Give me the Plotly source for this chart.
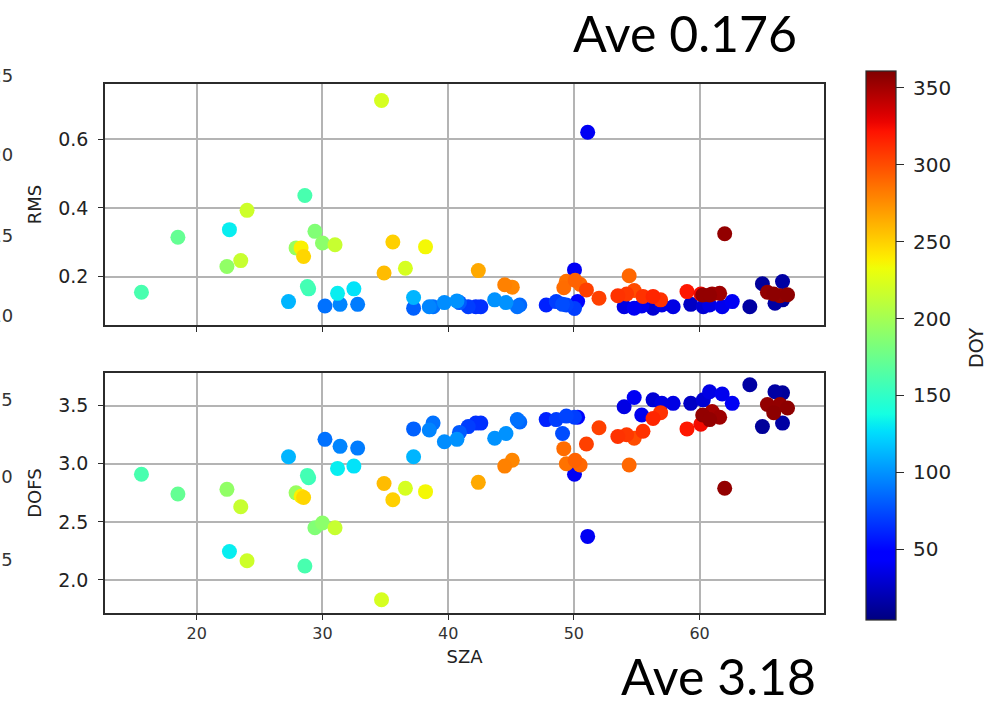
import numpy as np
import plotly.graph_objects as go

# Retrieval quality versus solar zenith angle, coloured by day of year
sza = [15.6, 18.5, 22.6, 22.4, 23.5, 24.0, 27.3, 27.9, 28.3, 28.5,
       28.6, 28.8, 28.9, 29.4, 30.0, 30.2, 31.0, 31.2, 31.4, 32.5,
       32.8, 34.7, 34.9, 35.6, 36.6, 37.25, 37.25, 38.2, 38.5, 38.8,
       39.7, 40.7, 40.9, 41.6, 42.2, 42.4, 42.6, 43.7, 44.5, 45.1,
       44.6, 45.5, 45.7, 47.8, 48.6, 49.1, 49.4, 49.2, 49.4, 50.1,
       50.5, 50.05, 50.3, 50.05, 51.0, 51.1, 52.0, 53.5, 54.0, 54.4,
       54.8, 54.8, 54.2, 55.5, 55.4, 56.3, 56.3, 56.9, 57.0, 57.9,
       59.0, 59.3, 60.1, 60.25, 60.8, 61.6, 61.0, 60.8, 61.8, 62.6,
       60.3, 62.0, 64.0, 65.0, 66.6, 66.0, 66.6, 65.4, 65.9, 66.4,
       67.0]
rms = [0.155, 0.315, 0.337, 0.230, 0.247, 0.393, 0.128, 0.284, 0.284, 0.259,
       0.436, 0.172, 0.165, 0.332, 0.298, 0.115, 0.293, 0.152, 0.120, 0.165,
       0.120, 0.712, 0.211, 0.301, 0.225, 0.140, 0.109, 0.287, 0.113, 0.113,
       0.125, 0.130, 0.125, 0.113, 0.113, 0.218, 0.113, 0.133, 0.177, 0.170,
       0.125, 0.113, 0.118, 0.118, 0.128, 0.120, 0.118, 0.168, 0.187, 0.190,
       0.178, 0.220, 0.128, 0.108, 0.162, 0.620, 0.138, 0.145, 0.113, 0.203,
       0.160, 0.109, 0.150, 0.143, 0.115, 0.143, 0.109, 0.133, 0.118, 0.113,
       0.157, 0.120, 0.150, 0.147, 0.147, 0.152, 0.150, 0.118, 0.113, 0.128,
       0.113, 0.325, 0.113, 0.180, 0.186, 0.123, 0.133, 0.155, 0.150, 0.145,
       0.148]
dofs = [2.91, 2.74, 2.245, 2.78, 2.63, 2.165, 3.06, 2.75, 2.72, 2.71,
        2.12, 2.90, 2.88, 2.45, 2.49, 3.21, 2.45, 2.96, 3.15, 2.98,
        3.135, 1.83, 2.83, 2.69, 2.79, 3.06, 3.30, 2.76, 3.29, 3.35,
        3.19, 3.21, 3.27, 3.32, 3.35, 2.84, 3.35, 3.22, 2.98, 3.03,
        3.26, 3.38, 3.36, 3.38, 3.38, 3.26, 3.41, 3.13, 3.00, 3.03,
        2.99, 2.91, 3.40, 3.40, 3.17, 2.375, 3.31, 3.235, 3.49, 2.99,
        3.22, 3.57, 3.25, 3.28, 3.42, 3.39, 3.55, 3.44, 3.52, 3.52,
        3.30, 3.52, 3.34, 3.42, 3.38, 3.40, 3.45, 3.62, 3.60, 3.52,
        3.55, 2.79, 3.68, 3.32, 3.35, 3.62, 3.61, 3.51, 3.44, 3.51,
        3.48]
doy = [160, 172, 132, 192, 215, 218, 112, 195, 238, 248,
       160, 158, 155, 185, 190, 88, 215, 132, 95, 128,
       92, 222, 258, 250, 222, 112, 82, 235, 95, 88,
       98, 100, 80, 70, 65, 265, 65, 100, 280, 278,
       100, 88, 85, 60, 70, 75, 72, 288, 286, 292,
       290, 40, 50, 70, 305, 40, 305, 310, 35, 290,
       300, 40, 308, 310, 38, 315, 30, 310, 35, 35,
       320, 25, 325, 355, 355, 352, 350, 35, 38, 40,
       30, 355, 15, 12, 15, 15, 12, 355, 357, 355,
       357]

rms_label = "Ave 0.176"
dofs_label = "Ave 3.18"
doy_range = [4, 361]
doy_ticks = [50, 100, 150, 200, 250, 300, 350]

# Later days are drawn on top
order = np.argsort(doy, kind="stable")
sza_o = np.asarray(sza)[order]
rms_o = np.asarray(rms)[order]
dofs_o = np.asarray(dofs)[order]
doy_o = np.asarray(doy)[order]


def jet_colorscale(n=65):
    """Classic 'jet' colormap as a Plotly colorscale."""
    seg = {
        "r": [(0, 0), (0.35, 0), (0.66, 1), (0.89, 1), (1, 0.5)],
        "g": [(0, 0), (0.125, 0), (0.375, 1), (0.64, 1), (0.91, 0), (1, 0)],
        "b": [(0, 0.5), (0.11, 1), (0.34, 1), (0.65, 0), (1, 0)],
    }
    t = np.linspace(0, 1, n)
    chans = {k: np.interp(t, [p[0] for p in v], [p[1] for p in v]) for k, v in seg.items()}
    return [[float(ti), "rgb(%d,%d,%d)" % (round(255 * r), round(255 * g), round(255 * b))]
            for ti, r, g, b in zip(t, chans["r"], chans["g"], chans["b"])]


# Figure geometry (pixels)
W, H = 997, 706
L, R, T, B = 105, 824, 84, 613
PW, PH = R - L, B - T


def px(x):
    return (x - L) / PW


def py(y):
    return (B - y) / PH


FONT = "DejaVu Sans"
AX = "#2b2b2b"
GRID = "#b4b4b4"

fig = go.Figure()
marker = dict(size=15, color=doy_o, coloraxis="coloraxis", line=dict(width=0), opacity=1)
fig.add_trace(go.Scatter(x=sza_o, y=rms_o, mode="markers", marker=marker,
                         xaxis="x", yaxis="y", showlegend=False))
fig.add_trace(go.Scatter(x=sza_o, y=dofs_o, mode="markers", marker=marker,
                         xaxis="x2", yaxis="y2", showlegend=False))

axis_common = dict(
    showline=True, mirror=True, linecolor=AX, linewidth=1.5,
    ticks="outside", ticklen=5, tickwidth=1.2, tickcolor=AX,
    showgrid=True, gridcolor=GRID, gridwidth=1.5, zeroline=False,
)
xr = [12.7, 69.9]

fig.update_layout(
    width=W, height=H,
    margin=dict(l=L, r=W - R, t=T, b=H - B, pad=0),
    paper_bgcolor="white", plot_bgcolor="white",
    font=dict(family=FONT, color="#222"),
    xaxis=dict(axis_common, domain=[0, 1], anchor="y", range=xr, dtick=10,
               showticklabels=False),
    yaxis=dict(axis_common, domain=[py(325), 1], anchor="x", range=[0.06, 0.76],
               tickvals=[0.2, 0.4, 0.6], tickformat=".1f",
               tickfont=dict(size=19, color="#222"), ticklabelstandoff=6,
               title=dict(text="RMS", font=dict(size=18, color="#222"), standoff=12)),
    xaxis2=dict(axis_common, domain=[0, 1], anchor="y2", range=xr, dtick=10,
                tickfont=dict(size=16, color="#333"),
                title=dict(text="SZA", font=dict(size=18, color="#222"), standoff=8)),
    yaxis2=dict(axis_common, domain=[0, py(373)], anchor="x2", range=[1.716, 3.781],
                dtick=0.5, tickformat=".1f",
                tickfont=dict(size=19, color="#222"), ticklabelstandoff=6,
                title=dict(text="DOFS", font=dict(size=18, color="#222"), standoff=12)),
    coloraxis=dict(
        colorscale=jet_colorscale(), cmin=doy_range[0], cmax=doy_range[1],
        colorbar=dict(
            x=px(866), xanchor="left", xpad=0, y=py(345.5), yanchor="middle", ypad=0,
            len=549, lenmode="pixels", thickness=30, thicknessmode="pixels",
            outlinewidth=1.2, outlinecolor=AX,
            tickvals=doy_ticks, ticktext=["\u2005" + str(v) for v in doy_ticks],
            ticks="outside", ticklen=8, tickwidth=1.2, tickcolor=AX,
            tickfont=dict(size=20, color="#222", family=FONT),
        ),
    ),
)

# Colour bar title
fig.add_annotation(text="DOY", xref="paper", yref="paper", x=px(976), y=py(348),
                   xanchor="center", yanchor="middle", textangle=-90, showarrow=False,
                   font=dict(family=FONT, size=19, color="#222"))

# Headline averages
big = dict(family="Lato", size=50, color="black")
fig.add_annotation(text=rms_label, xref="paper", yref="paper", x=px(685), y=py(33),
                   xanchor="center", yanchor="middle", showarrow=False, font=big)
fig.add_annotation(text=dofs_label, xref="paper", yref="paper", x=px(718), y=py(676),
                   xanchor="center", yanchor="middle", showarrow=False, font=big)

# Tick labels of the neighbouring panel, cut by the left page edge
edge_labels = [("0.25", 75), ("0.20", 155), ("0.15", 236), ("0.10", 315),
               ("3.5", 399), ("3.0", 476), ("2.5", 559)]
for txt, yy in edge_labels:
    fig.add_annotation(text=txt, xref="paper", yref="paper", x=px(15), y=py(yy),
                       xanchor="right", yanchor="middle", showarrow=False,
                       font=dict(family=FONT, size=18, color="#333"))

fig.write_html("out.html")
